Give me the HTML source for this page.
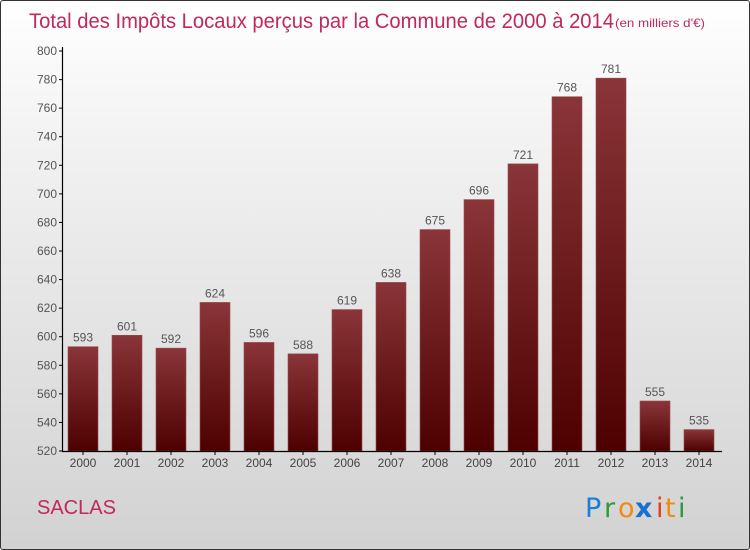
<!DOCTYPE html>
<html><head><meta charset="utf-8"><style>
body{margin:0;}
#wrap{width:750px;height:550px;position:relative;box-sizing:border-box;border:1px solid #333;border-radius:3px;background:linear-gradient(#ffffff,#f0f0f0 30%,#d2d2d2);overflow:hidden;font-family:"Liberation Sans",sans-serif;}
</style></head><body>
<div id="wrap">
<svg width="750" height="550" style="position:absolute;left:0;top:0" id="svg">
<defs><linearGradient id="bg" x1="0" y1="0" x2="0" y2="1"><stop offset="0" stop-color="#8a3539"/><stop offset="1" stop-color="#4e0000"/></linearGradient></defs>
<text x="28" y="27" font-size="21" fill="#c2285a" font-family="Liberation Sans, sans-serif" textLength="585" lengthAdjust="spacingAndGlyphs">Total des Impôts Locaux perçus par la Commune de 2000 à 2014</text>
<text x="614" y="26" font-size="12" fill="#c2285a" textLength="90" lengthAdjust="spacingAndGlyphs">(en milliers d'€)</text>
<g id="g"></g>
<text x="36" y="513" font-size="20" fill="#c2285a">SACLAS</text>
<g font-size="27" font-family="DejaVu Sans, sans-serif">
<text x="584" y="516" fill="#1a7fd4">P</text><text x="603" y="516" fill="#2a9a3a">r</text><text x="617" y="516" fill="#f08a10">o</text><text x="634" y="516" fill="#1a6fd0" font-weight="bold">x</text><text x="655" y="516" fill="#e83a20">i</text><text x="664" y="516" fill="#f08a10">t</text><text x="677" y="516" fill="#2a9a3a">i</text>
</g>
</svg></div>
<script>
const years=["2000","2001","2002","2003","2004","2005","2006","2007","2008","2009","2010","2011","2012","2013","2014"];
const values=[593,601,592,624,596,588,619,638,675,696,721,768,781,555,535];
const yTicks=[520,540,560,580,600,620,640,660,680,700,720,740,760,780,800];
const NS="http://www.w3.org/2000/svg";
const g=document.getElementById('g');
const y=v=>450-(v-520)*400/280;
const x=i=>82+i*44;
function mk(t,a,txt){const e=document.createElementNS(NS,t);for(const k in a)e.setAttribute(k,a[k]);if(txt!=null)e.textContent=txt;g.appendChild(e);return e;}
values.forEach((v,i)=>{
const r=mk('rect',{x:x(i)-15,y:y(v),width:30,height:450-y(v),fill:'url(#bg)',stroke:'#9a4a4e','stroke-width':0.6});


const l=mk('text',{x:x(i),y:y(v)-5,'text-anchor':'middle','font-size':12,fill:'#555'},v);


const t=mk('text',{x:x(i),y:466,'text-anchor':'middle','font-size':12,fill:'#444'},years[i]);


const tk=mk('line',{x1:x(i),x2:x(i),y1:450,y2:454,stroke:'#000'});


});
yTicks.forEach(v=>{
const t=mk('text',{x:56,y:y(v)+4,'text-anchor':'end','font-size':12,fill:'#555'},v);


const tk=mk('line',{x1:58,x2:62,y1:y(v),y2:y(v),stroke:'#000'});


});
const ya=mk('line',{x1:61.5,x2:61.5,y1:46,y2:450,stroke:'#000','stroke-width':1.2});


const xa=mk('line',{x1:61,x2:721,y1:450.5,y2:450.5,stroke:'#000','stroke-width':1.2});


</script>
</body></html>
